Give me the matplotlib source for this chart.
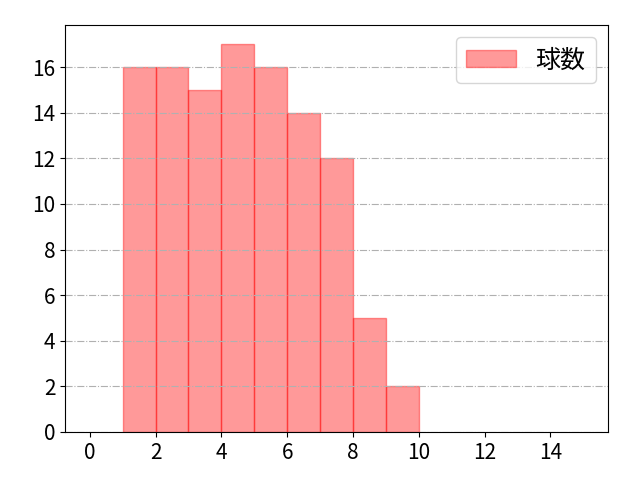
import matplotlib
matplotlib.use("Agg")
import matplotlib.pyplot as plt

plt.rcParams['font.family'] = ['Noto Sans CJK JP', 'DejaVu Sans']

# bin edges and counts per bin
bin_edges = [1, 2, 3, 4, 5, 6, 7, 8, 9, 10]
counts = [16, 16, 15, 17, 16, 14, 12, 5, 2]
label = "球数"

fig = plt.figure(figsize=(6.4, 4.8), dpi=100)
ax = fig.add_axes([0.1016, 0.1, 0.8484, 0.848])
ax.hist(bin_edges[:-1], bins=bin_edges, weights=counts, color='red', alpha=0.4,
        edgecolor='red', linewidth=1, label=label)
ax.grid(True, axis='y', linestyle='-.')
ax.set_xlim(-0.75, 15.75)
ax.set_ylim(0, 17.85)
ax.set_xticks(range(0, 16, 2))
ax.set_yticks(range(0, 17, 2))
ax.tick_params(labelsize=15)
ax.legend(loc='upper right', fontsize=18)

fig.savefig("out.png", dpi=100)
